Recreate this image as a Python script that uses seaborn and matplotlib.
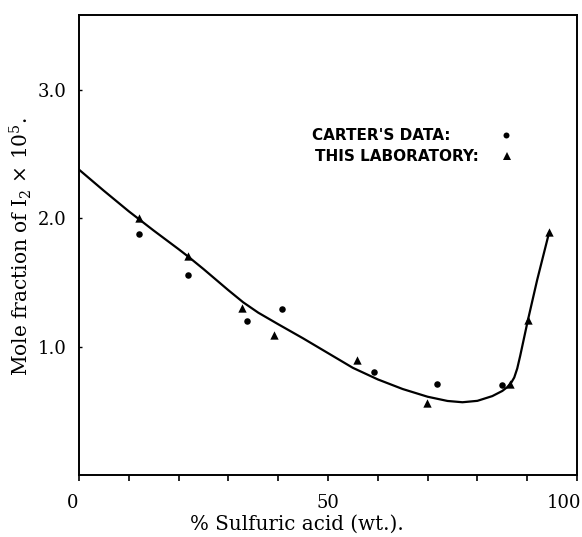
import matplotlib
matplotlib.use("Agg")
import matplotlib.pyplot as plt
import matplotlib.transforms as mtransforms
from matplotlib.ticker import MultipleLocator
import seaborn as sns

# ---- data ----
carter_x = [12.1, 21.9, 33.7, 40.7, 59.2, 71.9, 84.9]
carter_y = [1.88, 1.56, 1.20, 1.29, 0.80, 0.71, 0.70]

lab_x = [12.0, 21.9, 32.8, 39.1, 55.8, 69.8, 86.5, 90.1, 94.4]
lab_y = [2.00, 1.71, 1.30, 1.09, 0.90, 0.56, 0.71, 1.21, 1.89]

curve_x = [0, 5, 10, 12, 15, 20, 22, 25, 30, 33, 36, 40, 45, 50, 55, 60, 65,
           70, 74, 77, 80, 83, 85, 86, 86.8, 87.4, 88, 88.6, 90.1, 92, 94.4]
curve_y = [2.38, 2.215, 2.055, 1.995, 1.905, 1.76, 1.70, 1.605, 1.44, 1.345,
           1.265, 1.175, 1.065, 0.95, 0.835, 0.745, 0.67, 0.61, 0.577, 0.567,
           0.578, 0.615, 0.655, 0.685, 0.72, 0.76, 0.83, 0.93, 1.20, 1.52, 1.89]

x_ticks = [0, 50, 100]
x_tick_labels = ["0", "50", "100"]
y_ticks = [1.0, 2.0, 3.0]
y_tick_labels = ["1.0", "2.0", "3.0"]

legend_labels = ["CARTER'S DATA:", "THIS LABORATORY:"]

# ---- figure ----
sns.set_theme(style="ticks")
plt.rcParams['font.family'] = ['DejaVu Serif']
plt.rcParams['mathtext.fontset'] = 'dejavuserif'

W, H = 582, 537
fig = plt.figure(figsize=(W / 100, H / 100), dpi=100)
fig.patch.set_facecolor("white")
ax = fig.add_axes([79 / W, 1 - 475 / H, 498 / W, 460 / H])

sns.lineplot(x=curve_x, y=curve_y, ax=ax, color="black", linewidth=1.6,
             estimator=None, sort=False, legend=False)
sns.scatterplot(x=carter_x, y=carter_y, ax=ax, marker="o", s=22,
                color="black", linewidth=0, legend=False, zorder=3)
sns.scatterplot(x=lab_x, y=lab_y, ax=ax, marker="^", s=36,
                color="black", linewidth=0, legend=False, zorder=3)

ax.set_xlim(0, 100)
ax.set_ylim(0, 3.585)
ax.set_xticks(x_ticks)
ax.set_xticklabels(x_tick_labels)
ax.xaxis.set_minor_locator(MultipleLocator(10))
ax.set_yticks(y_ticks)
ax.set_yticklabels(y_tick_labels)

ax.tick_params(axis="x", which="both", direction="out", length=4, width=1.2,
               color="black", pad=10, labelsize=13, labelcolor="black")
ax.tick_params(axis="y", which="both", direction="in", length=2, width=1,
               color="black", pad=9, labelsize=13, labelcolor="black")

for spine in ax.spines.values():
    spine.set_visible(True)
    spine.set_color("black")
    spine.set_linewidth(1.4)

# small offsets of the printed tick labels as in the scan
for lab, dx in zip(ax.get_xticklabels(), [-6, 0, -13]):
    lab.set_transform(lab.get_transform() +
                      mtransforms.ScaledTranslation(dx / 100, 0, fig.dpi_scale_trans))

ax.set_ylabel(r"Mole fraction of I$_2$ $\times$ 10$^5$.", fontsize=14.5,
              color="black", va="center")
ax.yaxis.set_label_coords((21 - 79) / 498, (475 - 247) / 460)
ax.set_xlabel("% Sulfuric acid (wt.).", fontsize=14.3, color="black", va="center")
ax.xaxis.set_label_coords((297 - 79) / 498, (475 - 524) / 460)

# legend drawn as in the original (text then marker)
ax.text(0.468, 0.728, legend_labels[0], transform=ax.transAxes,
        family="DejaVu Sans", weight="bold", fontsize=11, ha="left",
        va="baseline", color="black")
ax.text(0.474, 0.6826, legend_labels[1], transform=ax.transAxes,
        family="DejaVu Sans", weight="bold", fontsize=11, ha="left",
        va="baseline", color="black")
ax.plot([0.857], [0.739], "o", ms=4.3, mew=0, color="black",
        transform=ax.transAxes)
ax.plot([0.860], [0.693], "^", ms=6, mew=0, color="black",
        transform=ax.transAxes)

fig.savefig("out.png", dpi=100, facecolor="white")
